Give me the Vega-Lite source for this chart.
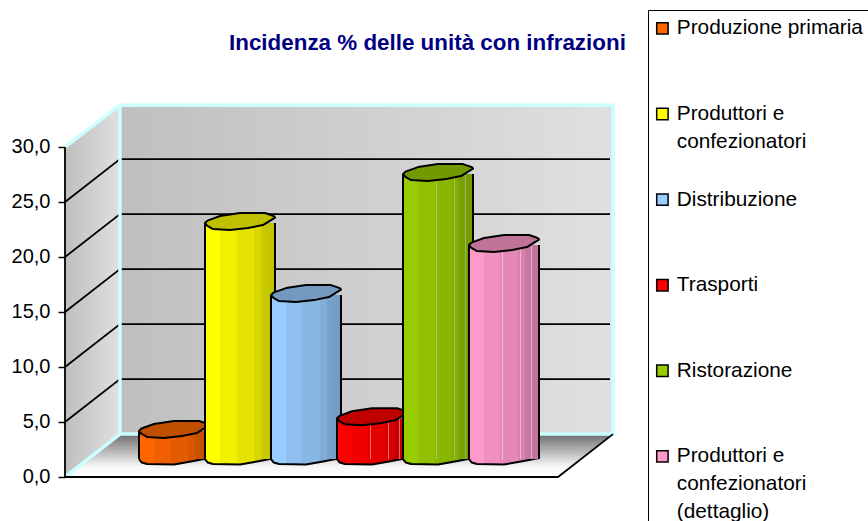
{"$schema":"https://vega.github.io/schema/vega-lite/v6.json","width":868,"height":521,"autosize":"none","padding":0,"background":"white","config":{"view":{"stroke":null},"font":"Liberation Sans","style":{"guide-label":{"lineHeight":28}}},
"title":{"text":"Incidenza % delle unità con infrazioni","anchor":"start","dx":229,"offset":-65,"baseline":"middle","font":"Liberation Sans","fontSize":22.4,"fontWeight":"bold","color":"#000080"},
"datasets":{"valori":[{"categoria":"Produzione primaria","valore":2.55},{"categoria":"Produttori e confezionatori","valore":21.45},{"categoria":"Distribuzione","valore":14.9},{"categoria":"Trasporti","valore":3.7},{"categoria":"Ristorazione","valore":25.9},{"categoria":"Produttori e confezionatori (dettaglio)","valore":19.45}],
"pavimento":[{"q":0,"a":65,"b":558},{"q":3.9,"a":120,"b":613}],
"pareti":[{"parete":"sinistra","p":65,"lo":0,"hi":30},{"parete":"sinistra","p":120,"lo":3.9,"hi":33.8},{"parete":"fondo","p":120,"lo":3.9,"hi":33.8},{"parete":"fondo","p":613,"lo":3.9,"hi":33.8}],
"griglia":[{"l":5,"p":65,"q":5},{"l":5,"p":120,"q":8.9},{"l":5,"p":610,"q":8.9},{"l":10,"p":65,"q":10},{"l":10,"p":120,"q":13.9},{"l":10,"p":610,"q":13.9},{"l":15,"p":65,"q":15},{"l":15,"p":120,"q":18.9},{"l":15,"p":610,"q":18.9},{"l":20,"p":65,"q":20},{"l":20,"p":120,"q":23.9},{"l":20,"p":610,"q":23.9},{"l":25,"p":65,"q":25},{"l":25,"p":120,"q":28.9},{"l":25,"p":610,"q":28.9}],
"bordo":[{"l":"a","n":1,"p":65,"q":30},{"l":"a","n":2,"p":120,"q":33.8},{"l":"a","n":3,"p":613,"q":33.8},{"l":"a","n":4,"p":613,"q":3.9},{"l":"a","n":5,"p":120,"q":3.9},{"l":"a","n":6,"p":120,"q":33.8},{"l":"b","n":1,"p":65,"q":0},{"l":"b","n":2,"p":120,"q":3.9}],
"nero":[{"l":"a","n":1,"p":65,"q":30},{"l":"a","n":2,"p":65,"q":0},{"l":"a","n":3,"p":558,"q":0},{"l":"a","n":4,"p":613,"q":3.9}]},
"resolve":{"scale":{"x":"independent","y":"independent"}},
"layer":[
{"encoding":{"x":{"type":"quantitative","scale":{"domain":[0,868],"nice":false,"zero":false},"axis":null},"y":{"type":"quantitative","scale":{"domain":[-4,43.3636],"nice":false,"zero":false},"axis":{"values":[0,5,10,15,20,25,30],"offset":-65,"domain":false,"grid":false,"title":null,"tickColor":"black","tickWidth":1.5,"tickSize":7,"labelPadding":8,"labelFont":"Liberation Sans","labelFontSize":20,"labelColor":"black","labelExpr":"replace(format(datum.value,'.1f'),'.',',')"}}},
"layer":[
{"data":{"name":"pavimento"},"mark":{"type":"area","orient":"horizontal","fill":{"gradient":"linear","x1":0,"y1":0,"x2":0,"y2":1,"stops":[{"offset":0,"color":"#6e6e6e"},{"offset":0.75,"color":"#f6f6f6"},{"offset":1,"color":"#ffffff"}]}},"encoding":{"y":{"field":"q"},"x":{"field":"a"},"x2":{"field":"b"}}},
{"data":{"name":"pareti"},"mark":{"type":"area","fill":{"gradient":"linear","x1":0,"y1":0,"x2":1,"y2":0,"stops":[{"offset":0,"color":"#bfbfbf"},{"offset":1,"color":"#e0e0e0"}]}},"encoding":{"x":{"field":"p"},"y":{"field":"lo"},"y2":{"field":"hi"},"detail":{"field":"parete"}}},
{"data":{"name":"griglia"},"mark":{"type":"line","color":"black","strokeWidth":1.8},"encoding":{"x":{"field":"p"},"y":{"field":"q"},"detail":{"field":"l"}}},
{"data":{"name":"bordo"},"mark":{"type":"line","color":"#ccffff","strokeWidth":3.5},"encoding":{"x":{"field":"p"},"y":{"field":"q"},"detail":{"field":"l"},"order":{"field":"n"}}},
{"data":{"name":"nero"},"mark":{"type":"line","color":"black","strokeWidth":1.8},"encoding":{"x":{"field":"p"},"y":{"field":"q"},"detail":{"field":"l"},"order":{"field":"n"}}}
]},
{"data":{"name":"valori"},"mark":{"type":"bar","size":70,"opacity":0},"encoding":{"x":{"field":"categoria","type":"nominal","sort":null,"scale":{"domain":["Produzione primaria","Produttori e confezionatori","Distribuzione","Trasporti","Ristorazione","Produttori e confezionatori (dettaglio)"],"range":[141,537],"paddingInner":0,"paddingOuter":0},"axis":null},"y":{"field":"valore","type":"quantitative","scale":{"domain":[-5.636,41.727],"nice":false,"zero":false},"axis":null},"y2":{"datum":0},"color":{"field":"categoria","type":"nominal","scale":{"domain":["Produzione primaria","Produttori e confezionatori","Distribuzione","Trasporti","Ristorazione","Produttori e confezionatori (dettaglio)"],"range":["#ff6600","#ffff00","#99ccff","#ff0000","#99cc00","#ff99cc"]},"legend":{"title":null,"orient":"none","legendX":648,"legendY":10,"strokeColor":"black","fillColor":"white","padding":8,"gridAlign":"all","symbolType":"square","symbolSize":130,"symbolOffset":-4,"symbolStrokeColor":"black","symbolStrokeWidth":1.5,"symbolOpacity":1,"labelFont":"Liberation Sans","labelFontSize":20.8,"labelColor":"black","labelLimit":300,"labelOffset":4,"labelBaseline":"middle","rowPadding":7.6,"labelExpr":"datum.label=='Produttori e confezionatori'?['Produttori e','confezionatori']:datum.label=='Produttori e confezionatori (dettaglio)'?['Produttori e','confezionatori','(dettaglio)']:datum.label"}}}},
{"data":{"name":"valori"},"transform":[{"filter":"datum.categoria=='Produzione primaria'"}],"encoding":{"x":{"field":"categoria","type":"nominal","sort":null,"scale":{"domain":["Produzione primaria","Produttori e confezionatori","Distribuzione","Trasporti","Ristorazione","Produttori e confezionatori (dettaglio)"],"range":[141,537],"paddingInner":0,"paddingOuter":0},"axis":null},"y":{"field":"valore","type":"quantitative","scale":{"domain":[-5.636,41.727],"nice":false,"zero":false},"axis":null}},
"layer":[
{"mark":{"type":"point","filled":true,"opacity":1,"size":4900,"strokeJoin":"round","shape":"M-1 0L-0.92 0.1L-0.771 0.143L0 0.157L0.486 0.071L1 -0.029","fill":{"gradient":"linear","x1":0,"y1":0,"x2":1,"y2":0,"stops":[{"offset":0,"color":"#ff6600"},{"offset":0.21,"color":"#ff6600"},{"offset":0.21,"color":"#f06000"},{"offset":0.45,"color":"#f06000"},{"offset":0.45,"color":"#e45b00"},{"offset":0.7,"color":"#e45b00"},{"offset":0.7,"color":"#d85600"},{"offset":0.8,"color":"#d85600"},{"offset":0.8,"color":"#cc5200"},{"offset":1,"color":"#c04d00"}]},"stroke":"black","strokeWidth":2},"encoding":{"y":{"datum":0}}},
{"mark":{"type":"bar","size":70,"fill":{"gradient":"linear","x1":0,"y1":0,"x2":1,"y2":0,"stops":[{"offset":0,"color":"#ff6600"},{"offset":0.21,"color":"#ff6600"},{"offset":0.21,"color":"#f06000"},{"offset":0.45,"color":"#f06000"},{"offset":0.45,"color":"#e45b00"},{"offset":0.7,"color":"#e45b00"},{"offset":0.7,"color":"#d85600"},{"offset":0.8,"color":"#d85600"},{"offset":0.8,"color":"#cc5200"},{"offset":1,"color":"#c04d00"}]}},"encoding":{"y2":{"datum":0}}},
{"mark":{"type":"rule","color":"black","strokeWidth":2,"xOffset":-35},"encoding":{"y2":{"datum":0}}},
{"mark":{"type":"rule","color":"black","strokeWidth":2,"xOffset":35},"encoding":{"y2":{"datum":0}}},
{"mark":{"type":"point","filled":true,"opacity":1,"size":4900,"strokeJoin":"round","shape":"M-1 0L-0.93 -0.07L-0.571 -0.2L0 -0.286L0.714 -0.286L0.886 -0.229L0.98 -0.19L1 -0.157L0.657 0.057L0.229 0.143L-0.286 0.2L-0.771 0.171L-0.93 0.08Z","fill":"#c05000","stroke":"black","strokeWidth":2}}
]},
{"data":{"name":"valori"},"transform":[{"filter":"datum.categoria=='Produttori e confezionatori'"}],"encoding":{"x":{"field":"categoria","type":"nominal","sort":null,"scale":{"domain":["Produzione primaria","Produttori e confezionatori","Distribuzione","Trasporti","Ristorazione","Produttori e confezionatori (dettaglio)"],"range":[141,537],"paddingInner":0,"paddingOuter":0},"axis":null},"y":{"field":"valore","type":"quantitative","scale":{"domain":[-5.636,41.727],"nice":false,"zero":false},"axis":null}},
"layer":[
{"mark":{"type":"point","filled":true,"opacity":1,"size":4900,"strokeJoin":"round","shape":"M-1 0L-0.92 0.1L-0.771 0.143L0 0.157L0.486 0.071L1 -0.029","fill":{"gradient":"linear","x1":0,"y1":0,"x2":1,"y2":0,"stops":[{"offset":0,"color":"#ffff00"},{"offset":0.21,"color":"#ffff00"},{"offset":0.21,"color":"#f0f000"},{"offset":0.45,"color":"#f0f000"},{"offset":0.45,"color":"#e4e400"},{"offset":0.7,"color":"#e4e400"},{"offset":0.7,"color":"#d8d800"},{"offset":0.8,"color":"#d8d800"},{"offset":0.8,"color":"#cccc00"},{"offset":1,"color":"#c0c000"}]},"stroke":"black","strokeWidth":2},"encoding":{"y":{"datum":0}}},
{"mark":{"type":"bar","size":70,"fill":{"gradient":"linear","x1":0,"y1":0,"x2":1,"y2":0,"stops":[{"offset":0,"color":"#ffff00"},{"offset":0.21,"color":"#ffff00"},{"offset":0.21,"color":"#f0f000"},{"offset":0.45,"color":"#f0f000"},{"offset":0.45,"color":"#e4e400"},{"offset":0.7,"color":"#e4e400"},{"offset":0.7,"color":"#d8d800"},{"offset":0.8,"color":"#d8d800"},{"offset":0.8,"color":"#cccc00"},{"offset":1,"color":"#c0c000"}]}},"encoding":{"y2":{"datum":0}}},
{"mark":{"type":"rule","color":"black","strokeWidth":2,"xOffset":-35},"encoding":{"y2":{"datum":0}}},
{"mark":{"type":"rule","color":"black","strokeWidth":2,"xOffset":35},"encoding":{"y2":{"datum":0}}},
{"mark":{"type":"point","filled":true,"opacity":1,"size":4900,"strokeJoin":"round","shape":"M-1 0L-0.93 -0.07L-0.571 -0.2L0 -0.286L0.714 -0.286L0.886 -0.229L0.98 -0.19L1 -0.157L0.657 0.057L0.229 0.143L-0.286 0.2L-0.771 0.171L-0.93 0.08Z","fill":"#c0c000","stroke":"black","strokeWidth":2}}
]},
{"data":{"name":"valori"},"transform":[{"filter":"datum.categoria=='Distribuzione'"}],"encoding":{"x":{"field":"categoria","type":"nominal","sort":null,"scale":{"domain":["Produzione primaria","Produttori e confezionatori","Distribuzione","Trasporti","Ristorazione","Produttori e confezionatori (dettaglio)"],"range":[141,537],"paddingInner":0,"paddingOuter":0},"axis":null},"y":{"field":"valore","type":"quantitative","scale":{"domain":[-5.636,41.727],"nice":false,"zero":false},"axis":null}},
"layer":[
{"mark":{"type":"point","filled":true,"opacity":1,"size":4900,"strokeJoin":"round","shape":"M-1 0L-0.92 0.1L-0.771 0.143L0 0.157L0.486 0.071L1 -0.029","fill":{"gradient":"linear","x1":0,"y1":0,"x2":1,"y2":0,"stops":[{"offset":0,"color":"#99ccff"},{"offset":0.21,"color":"#99ccff"},{"offset":0.21,"color":"#90c0f0"},{"offset":0.45,"color":"#90c0f0"},{"offset":0.45,"color":"#89b7e4"},{"offset":0.7,"color":"#89b7e4"},{"offset":0.7,"color":"#82add8"},{"offset":0.8,"color":"#82add8"},{"offset":0.8,"color":"#7aa3cc"},{"offset":1,"color":"#7399c0"}]},"stroke":"black","strokeWidth":2},"encoding":{"y":{"datum":0}}},
{"mark":{"type":"bar","size":70,"fill":{"gradient":"linear","x1":0,"y1":0,"x2":1,"y2":0,"stops":[{"offset":0,"color":"#99ccff"},{"offset":0.21,"color":"#99ccff"},{"offset":0.21,"color":"#90c0f0"},{"offset":0.45,"color":"#90c0f0"},{"offset":0.45,"color":"#89b7e4"},{"offset":0.7,"color":"#89b7e4"},{"offset":0.7,"color":"#82add8"},{"offset":0.8,"color":"#82add8"},{"offset":0.8,"color":"#7aa3cc"},{"offset":1,"color":"#7399c0"}]}},"encoding":{"y2":{"datum":0}}},
{"mark":{"type":"rule","color":"black","strokeWidth":2,"xOffset":-35},"encoding":{"y2":{"datum":0}}},
{"mark":{"type":"rule","color":"black","strokeWidth":2,"xOffset":35},"encoding":{"y2":{"datum":0}}},
{"mark":{"type":"point","filled":true,"opacity":1,"size":4900,"strokeJoin":"round","shape":"M-1 0L-0.93 -0.07L-0.571 -0.2L0 -0.286L0.714 -0.286L0.886 -0.229L0.98 -0.19L1 -0.157L0.657 0.057L0.229 0.143L-0.286 0.2L-0.771 0.171L-0.93 0.08Z","fill":"#7399c0","stroke":"black","strokeWidth":2}}
]},
{"data":{"name":"valori"},"transform":[{"filter":"datum.categoria=='Trasporti'"}],"encoding":{"x":{"field":"categoria","type":"nominal","sort":null,"scale":{"domain":["Produzione primaria","Produttori e confezionatori","Distribuzione","Trasporti","Ristorazione","Produttori e confezionatori (dettaglio)"],"range":[141,537],"paddingInner":0,"paddingOuter":0},"axis":null},"y":{"field":"valore","type":"quantitative","scale":{"domain":[-5.636,41.727],"nice":false,"zero":false},"axis":null}},
"layer":[
{"mark":{"type":"point","filled":true,"opacity":1,"size":4900,"strokeJoin":"round","shape":"M-1 0L-0.92 0.1L-0.771 0.143L0 0.157L0.486 0.071L1 -0.029","fill":{"gradient":"linear","x1":0,"y1":0,"x2":1,"y2":0,"stops":[{"offset":0,"color":"#ff0000"},{"offset":0.21,"color":"#ff0000"},{"offset":0.21,"color":"#f00000"},{"offset":0.45,"color":"#f00000"},{"offset":0.45,"color":"#e40000"},{"offset":0.7,"color":"#e40000"},{"offset":0.7,"color":"#d80000"},{"offset":0.8,"color":"#d80000"},{"offset":0.8,"color":"#cc0000"},{"offset":1,"color":"#c00000"}]},"stroke":"black","strokeWidth":2},"encoding":{"y":{"datum":0}}},
{"mark":{"type":"bar","size":70,"fill":{"gradient":"linear","x1":0,"y1":0,"x2":1,"y2":0,"stops":[{"offset":0,"color":"#ff0000"},{"offset":0.21,"color":"#ff0000"},{"offset":0.21,"color":"#f00000"},{"offset":0.45,"color":"#f00000"},{"offset":0.45,"color":"#e40000"},{"offset":0.47,"color":"#e40000"},{"offset":0.47,"color":"#f07070"},{"offset":0.48,"color":"#f07070"},{"offset":0.48,"color":"#e40000"},{"offset":0.7,"color":"#e40000"},{"offset":0.7,"color":"#d80000"},{"offset":0.73,"color":"#d80000"},{"offset":0.73,"color":"#e87070"},{"offset":0.74,"color":"#e87070"},{"offset":0.74,"color":"#d80000"},{"offset":0.8,"color":"#d80000"},{"offset":0.8,"color":"#cc0000"},{"offset":0.89,"color":"#c60000"},{"offset":0.89,"color":"#e07070"},{"offset":0.9,"color":"#e07070"},{"offset":0.9,"color":"#c60000"},{"offset":1,"color":"#c00000"}]}},"encoding":{"y2":{"datum":0}}},
{"mark":{"type":"rule","color":"black","strokeWidth":2,"xOffset":-35},"encoding":{"y2":{"datum":0}}},
{"mark":{"type":"rule","color":"black","strokeWidth":2,"xOffset":35},"encoding":{"y2":{"datum":0}}},
{"mark":{"type":"point","filled":true,"opacity":1,"size":4900,"strokeJoin":"round","shape":"M-1 0L-0.93 -0.07L-0.571 -0.2L0 -0.286L0.714 -0.286L0.886 -0.229L0.98 -0.19L1 -0.157L0.657 0.057L0.229 0.143L-0.286 0.2L-0.771 0.171L-0.93 0.08Z","fill":"#c00000","stroke":"black","strokeWidth":2}}
]},
{"data":{"name":"valori"},"transform":[{"filter":"datum.categoria=='Ristorazione'"}],"encoding":{"x":{"field":"categoria","type":"nominal","sort":null,"scale":{"domain":["Produzione primaria","Produttori e confezionatori","Distribuzione","Trasporti","Ristorazione","Produttori e confezionatori (dettaglio)"],"range":[141,537],"paddingInner":0,"paddingOuter":0},"axis":null},"y":{"field":"valore","type":"quantitative","scale":{"domain":[-5.636,41.727],"nice":false,"zero":false},"axis":null}},
"layer":[
{"mark":{"type":"point","filled":true,"opacity":1,"size":4900,"strokeJoin":"round","shape":"M-1 0L-0.92 0.1L-0.771 0.143L0 0.157L0.486 0.071L1 -0.029","fill":{"gradient":"linear","x1":0,"y1":0,"x2":1,"y2":0,"stops":[{"offset":0,"color":"#99cc00"},{"offset":0.21,"color":"#99cc00"},{"offset":0.21,"color":"#90c000"},{"offset":0.45,"color":"#90c000"},{"offset":0.45,"color":"#89b700"},{"offset":0.7,"color":"#89b700"},{"offset":0.7,"color":"#82ad00"},{"offset":0.8,"color":"#82ad00"},{"offset":0.8,"color":"#7aa300"},{"offset":1,"color":"#739900"}]},"stroke":"black","strokeWidth":2},"encoding":{"y":{"datum":0}}},
{"mark":{"type":"bar","size":70,"fill":{"gradient":"linear","x1":0,"y1":0,"x2":1,"y2":0,"stops":[{"offset":0,"color":"#99cc00"},{"offset":0.21,"color":"#99cc00"},{"offset":0.21,"color":"#90c000"},{"offset":0.45,"color":"#90c000"},{"offset":0.45,"color":"#89b700"},{"offset":0.47,"color":"#89b700"},{"offset":0.47,"color":"#b0c870"},{"offset":0.48,"color":"#b0c870"},{"offset":0.48,"color":"#89b700"},{"offset":0.7,"color":"#89b700"},{"offset":0.7,"color":"#82ad00"},{"offset":0.73,"color":"#82ad00"},{"offset":0.73,"color":"#a8c070"},{"offset":0.74,"color":"#a8c070"},{"offset":0.74,"color":"#82ad00"},{"offset":0.8,"color":"#82ad00"},{"offset":0.8,"color":"#7aa300"},{"offset":0.89,"color":"#769e00"},{"offset":0.89,"color":"#a0b870"},{"offset":0.9,"color":"#a0b870"},{"offset":0.9,"color":"#769e00"},{"offset":1,"color":"#739900"}]}},"encoding":{"y2":{"datum":0}}},
{"mark":{"type":"rule","color":"black","strokeWidth":2,"xOffset":-35},"encoding":{"y2":{"datum":0}}},
{"mark":{"type":"rule","color":"black","strokeWidth":2,"xOffset":35},"encoding":{"y2":{"datum":0}}},
{"mark":{"type":"point","filled":true,"opacity":1,"size":4900,"strokeJoin":"round","shape":"M-1 0L-0.93 -0.07L-0.571 -0.2L0 -0.286L0.714 -0.286L0.886 -0.229L0.98 -0.19L1 -0.157L0.657 0.057L0.229 0.143L-0.286 0.2L-0.771 0.171L-0.93 0.08Z","fill":"#739900","stroke":"black","strokeWidth":2}}
]},
{"data":{"name":"valori"},"transform":[{"filter":"datum.categoria=='Produttori e confezionatori (dettaglio)'"}],"encoding":{"x":{"field":"categoria","type":"nominal","sort":null,"scale":{"domain":["Produzione primaria","Produttori e confezionatori","Distribuzione","Trasporti","Ristorazione","Produttori e confezionatori (dettaglio)"],"range":[141,537],"paddingInner":0,"paddingOuter":0},"axis":null},"y":{"field":"valore","type":"quantitative","scale":{"domain":[-5.636,41.727],"nice":false,"zero":false},"axis":null}},
"layer":[
{"mark":{"type":"point","filled":true,"opacity":1,"size":4900,"strokeJoin":"round","shape":"M-1 0L-0.92 0.1L-0.771 0.143L0 0.157L0.486 0.071L1 -0.029","fill":{"gradient":"linear","x1":0,"y1":0,"x2":1,"y2":0,"stops":[{"offset":0,"color":"#ff99cc"},{"offset":0.21,"color":"#ff99cc"},{"offset":0.21,"color":"#f090c0"},{"offset":0.45,"color":"#f090c0"},{"offset":0.45,"color":"#e489b7"},{"offset":0.7,"color":"#e489b7"},{"offset":0.7,"color":"#d882ad"},{"offset":0.8,"color":"#d882ad"},{"offset":0.8,"color":"#cc7aa3"},{"offset":1,"color":"#c07399"}]},"stroke":"black","strokeWidth":2},"encoding":{"y":{"datum":0}}},
{"mark":{"type":"bar","size":70,"fill":{"gradient":"linear","x1":0,"y1":0,"x2":1,"y2":0,"stops":[{"offset":0,"color":"#ff99cc"},{"offset":0.21,"color":"#ff99cc"},{"offset":0.21,"color":"#f090c0"},{"offset":0.45,"color":"#f090c0"},{"offset":0.45,"color":"#e489b7"},{"offset":0.47,"color":"#e489b7"},{"offset":0.47,"color":"#f0c0d8"},{"offset":0.48,"color":"#f0c0d8"},{"offset":0.48,"color":"#e489b7"},{"offset":0.7,"color":"#e489b7"},{"offset":0.7,"color":"#d882ad"},{"offset":0.73,"color":"#d882ad"},{"offset":0.73,"color":"#e8b8d0"},{"offset":0.74,"color":"#e8b8d0"},{"offset":0.74,"color":"#d882ad"},{"offset":0.8,"color":"#d882ad"},{"offset":0.8,"color":"#cc7aa3"},{"offset":0.89,"color":"#c6769e"},{"offset":0.89,"color":"#e0b0c8"},{"offset":0.9,"color":"#e0b0c8"},{"offset":0.9,"color":"#c6769e"},{"offset":1,"color":"#c07399"}]}},"encoding":{"y2":{"datum":0}}},
{"mark":{"type":"rule","color":"black","strokeWidth":2,"xOffset":-35},"encoding":{"y2":{"datum":0}}},
{"mark":{"type":"rule","color":"black","strokeWidth":2,"xOffset":35},"encoding":{"y2":{"datum":0}}},
{"mark":{"type":"point","filled":true,"opacity":1,"size":4900,"strokeJoin":"round","shape":"M-1 0L-0.93 -0.07L-0.571 -0.2L0 -0.286L0.714 -0.286L0.886 -0.229L0.98 -0.19L1 -0.157L0.657 0.057L0.229 0.143L-0.286 0.2L-0.771 0.171L-0.93 0.08Z","fill":"#c07399","stroke":"black","strokeWidth":2}}
]}
]}
